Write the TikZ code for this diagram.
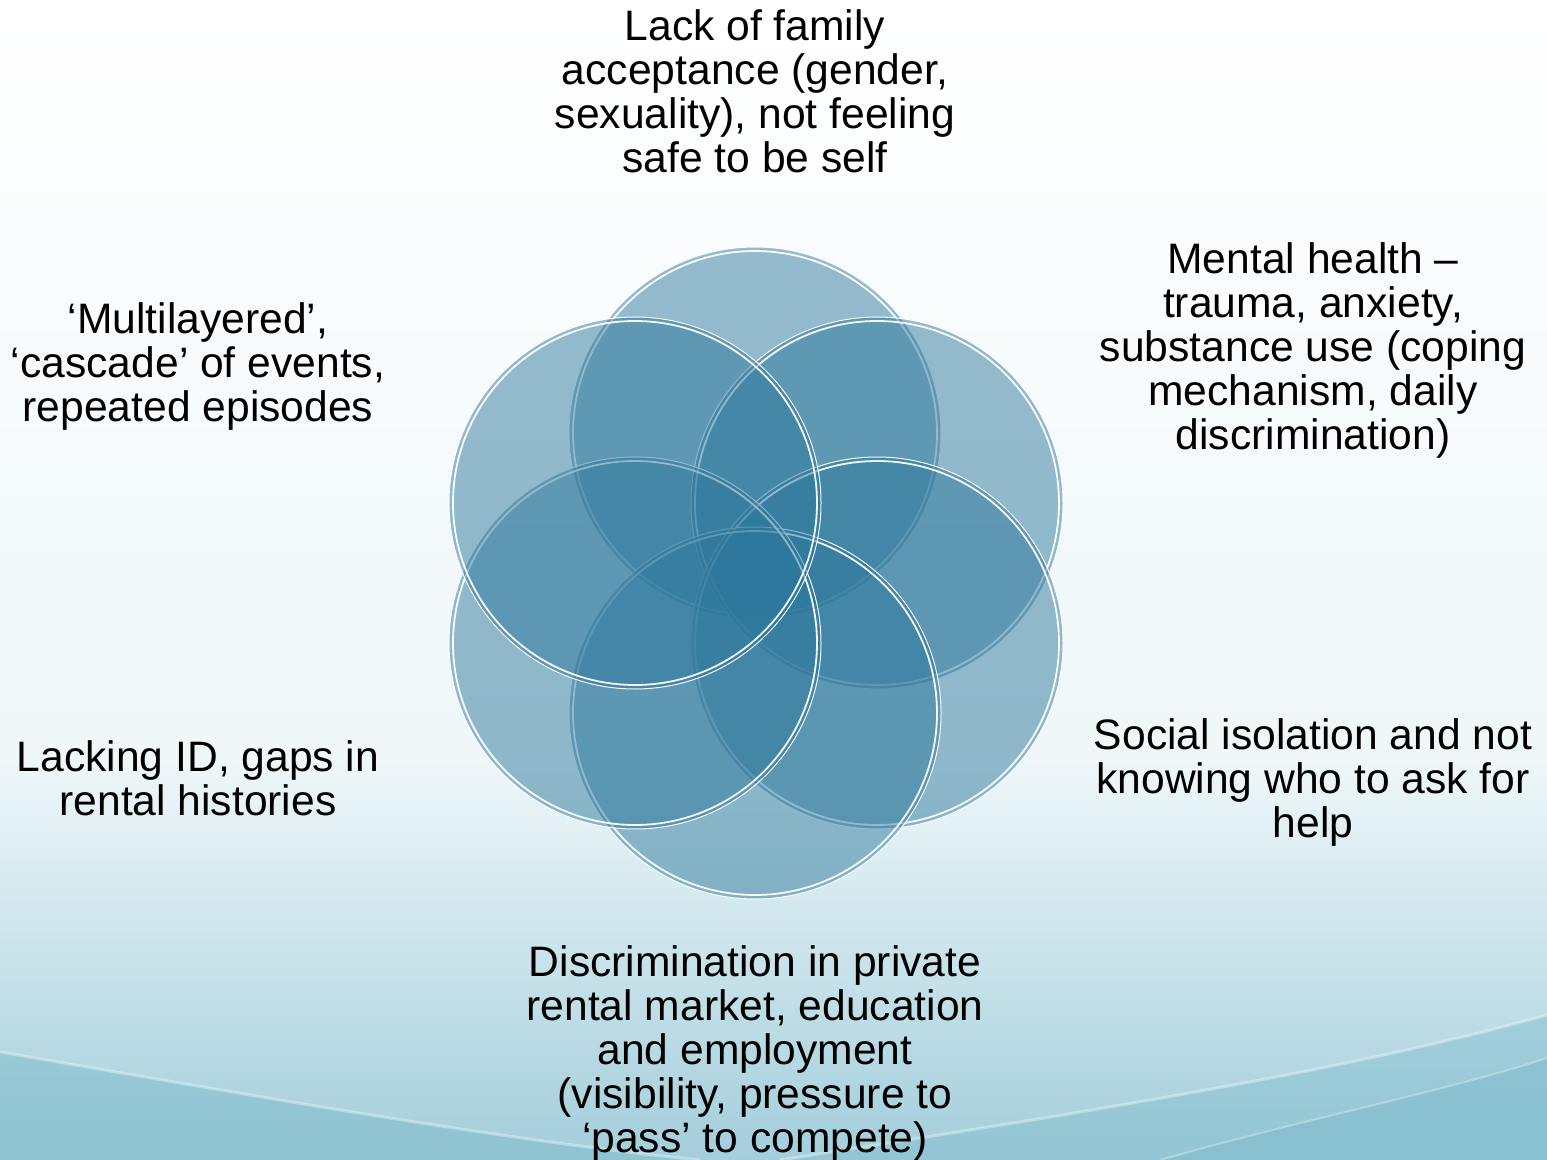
\documentclass[tikz,border=0pt]{standalone}
\usepackage{fontspec}
\setmainfont{Liberation Sans}
\begin{document}
\begin{tikzpicture}[x=0.5pt,y=-0.5pt,
  petal/.style={circle,minimum size=186pt,inner sep=0pt,fill=petalblue,fill opacity=0.49},
  rimout/.style={draw=white,line width=0.5pt,draw opacity=0.95},
  rimin/.style={draw=white,line width=0.9pt,draw opacity=0.95},
  lbl/.style={align=center,inner sep=0pt,anchor=north,text=black,font=\fontsize{21.3}{22}\selectfont}]
\definecolor{petalblue}{HTML}{2A769B}
\definecolor{bgmid}{HTML}{EFF7F9}
\definecolor{bgbot}{HTML}{A3CEDB}
\definecolor{wave}{HTML}{80BCCD}
\useasboundingbox (0,0) rectangle (1547,1160);
% background
\shade[top color=white,bottom color=bgmid] (0,0) rectangle (1547,760);
\shade[top color=bgmid,bottom color=bgbot] (0,759) rectangle (1547,1160);
\fill[wave,opacity=0.55] (0,1052) .. controls (250,1095) and (500,1140) .. (700,1160) -- (0,1160) -- cycle;
\draw[white,opacity=0.35,line width=1.5pt] (0,1052) .. controls (250,1095) and (500,1140) .. (700,1160);
\fill[wave,opacity=0.45] (780,1160) .. controls (1100,1110) and (1350,1070) .. (1547,1015) -- (1547,1160) -- cycle;
\draw[white,opacity=0.35,line width=1.5pt] (780,1160) .. controls (1100,1110) and (1350,1070) .. (1547,1015);
\fill[wave,opacity=0.55] (1160,1160) .. controls (1300,1120) and (1450,1090) .. (1547,1058) -- (1547,1160) -- cycle;
\draw[white,opacity=0.3,line width=1pt] (1160,1160) .. controls (1300,1120) and (1450,1090) .. (1547,1058);
% petals, clockwise from the top, each with its white double rim
\foreach \n/\px/\py in {c0/755/433, c1/877/503, c2/877/643, c3/755/713, c4/635/643, c5/635/503}{
  \node[petal] (\n) at (\px,\py) {};
  \draw[rimout] (\n.center) circle[radius=93pt];
  \draw[rimin] (\n.center) circle[radius=91pt];
}
% labels
\node[lbl] (t0) at (755,9) {Lack of family\\acceptance (gender,\\sexuality), not feeling\\safe to be self};
\node[lbl] (t1) at (1313,242) {Mental health –\\trauma, anxiety,\\substance use (coping\\mechanism, daily\\discrimination)};
\node[lbl] (t2) at (1313,718) {Social isolation and not\\knowing who to ask for\\help};
\node[lbl] (t3) at (755,945) {Discrimination in private\\rental market, education\\and employment\\(visibility, pressure to\\‘pass’ to compete)};
\node[lbl] (t4) at (198,740) {Lacking ID, gaps in\\rental histories};
\node[lbl] (t5) at (198,302) {‘Multilayered’,\\‘cascade’ of events,\\repeated episodes};
\end{tikzpicture}
\end{document}
